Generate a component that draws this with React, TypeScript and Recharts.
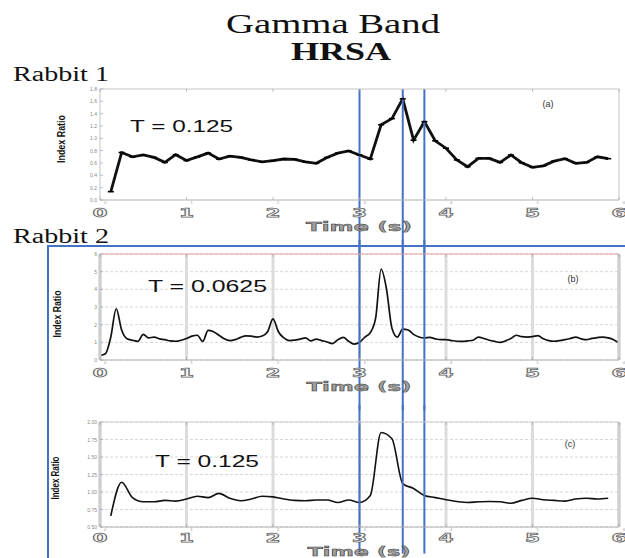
import React from 'react';
import { LineChart, Line, XAxis, YAxis, CartesianGrid, ReferenceLine } from 'recharts';

const SANS = '"Liberation Sans", Arial, sans-serif';
const SERIF = '"Liberation Serif", "Times New Roman", serif';
const WIDE = '"DejaVu Sans", Verdana, sans-serif';
const BLUE = '#4472C4';

const timeTicks = [0, 1, 2, 3, 4, 5, 6];
const markerTimes = [3, 3.5, 3.75];

// Rabbit 1, T = 0.125
const r1Times = [0.125, 0.25, 0.375, 0.5, 0.625, 0.75, 0.875, 1, 1.125, 1.25, 1.375, 1.5, 1.625, 1.75, 1.875, 2,
  2.125, 2.25, 2.375, 2.5, 2.625, 2.75, 2.875, 3, 3.125, 3.25, 3.375, 3.5, 3.625, 3.75, 3.875, 4,
  4.125, 4.25, 4.375, 4.5, 4.625, 4.75, 4.875, 5, 5.125, 5.25, 5.375, 5.5, 5.625, 5.75, 5.875];
const r1Values = [0.135, 0.77, 0.70, 0.73, 0.69, 0.61, 0.735, 0.64, 0.70, 0.76, 0.665, 0.71, 0.69, 0.65, 0.62, 0.64,
  0.665, 0.66, 0.62, 0.595, 0.69, 0.76, 0.795, 0.73, 0.665, 1.22, 1.32, 1.64, 0.97, 1.27, 0.96, 0.84,
  0.65, 0.54, 0.675, 0.675, 0.61, 0.73, 0.605, 0.53, 0.555, 0.63, 0.67, 0.595, 0.61, 0.70, 0.67];
const r1Ticks = [0, 0.2, 0.4, 0.6, 0.8, 1.0, 1.2, 1.4, 1.6, 1.8];

// Rabbit 2, T = 0.0625
const r2Times = [0, 0.0625, 0.125, 0.1875, 0.25, 0.3125, 0.375, 0.4375, 0.5, 0.5625, 0.625, 0.6875, 0.75, 0.8125, 0.875, 0.9375,
  1, 1.0625, 1.125, 1.1875, 1.25, 1.3125, 1.375, 1.4375, 1.5, 1.5625, 1.625, 1.6875, 1.75, 1.8125, 1.875, 1.9375,
  2, 2.0625, 2.125, 2.1875, 2.25, 2.3125, 2.375, 2.4375, 2.5, 2.5625, 2.625, 2.6875, 2.75, 2.8125, 2.875, 2.9375,
  3, 3.0625, 3.125, 3.1875, 3.25, 3.3125, 3.375, 3.4375, 3.5, 3.5625, 3.625, 3.6875, 3.75, 3.8125, 3.875, 3.9375,
  4, 4.0625, 4.125, 4.1875, 4.25, 4.3125, 4.375, 4.4375, 4.5, 4.5625, 4.625, 4.6875, 4.75, 4.8125, 4.875, 4.9375,
  5, 5.0625, 5.125, 5.1875, 5.25, 5.3125, 5.375, 5.4375, 5.5, 5.5625, 5.625, 5.6875, 5.75, 5.8125, 5.875, 5.9375, 6];
const r2Values = [0.25, 0.35, 1.3, 2.9, 1.7, 1.2, 1.12, 1.05, 1.45, 1.25, 1.3, 1.2, 1.15, 1.08, 1.06, 1.12,
  1.22, 1.35, 1.4, 1.05, 1.68, 1.6, 1.4, 1.2, 1.1, 1.15, 1.28, 1.36, 1.35, 1.3, 1.36, 1.6,
  2.33, 1.6, 1.25, 1.1, 1.12, 1.18, 1.25, 1.08, 1.18, 1.1, 1.02, 0.93, 1.15, 1.28, 1.06, 0.9,
  1.0, 1.3, 1.55, 2.4, 5.15, 4.0, 1.8, 1.3, 1.75, 1.7, 1.45, 1.3, 1.25, 1.28, 1.2, 1.15,
  1.15, 1.1, 1.06, 1.05, 1.08, 1.12, 1.3, 1.22, 1.12, 1.05, 1.0, 1.08, 1.22, 1.4, 1.32, 1.3,
  1.32, 1.38, 1.2, 1.1, 1.06, 1.1, 1.15, 1.22, 1.3, 1.2, 1.15, 1.22, 1.27, 1.3, 1.25, 1.15, 0.97];
const r2Ticks = [0, 1, 2, 3, 4, 5, 6];

// Rabbit 2, T = 0.125
const r3Times = [0.125, 0.25, 0.375, 0.5, 0.625, 0.75, 0.875, 1, 1.125, 1.25, 1.375, 1.5, 1.625, 1.75, 1.875, 2,
  2.125, 2.25, 2.375, 2.5, 2.625, 2.75, 2.875, 3, 3.125, 3.25, 3.375, 3.5, 3.625, 3.75, 3.875, 4,
  4.125, 4.25, 4.375, 4.5, 4.625, 4.75, 4.875, 5, 5.125, 5.25, 5.375, 5.5, 5.625, 5.75, 5.875];
const r3Values = [0.66, 1.14, 0.92, 0.86, 0.86, 0.88, 0.87, 0.9, 0.94, 0.92, 0.98, 0.91, 0.875, 0.9, 0.94, 0.93,
  0.9, 0.88, 0.875, 0.885, 0.885, 0.85, 0.885, 0.85, 0.95, 1.85, 1.76, 1.12, 1.05, 0.95, 0.92, 0.89,
  0.865, 0.85, 0.86, 0.865, 0.86, 0.84, 0.88, 0.91, 0.89, 0.88, 0.87, 0.9, 0.91, 0.9, 0.91];
const r3Ticks = [0.5, 0.75, 1, 1.25, 1.5, 1.75, 2];

type PanelCfg = {
  top: number; height: number; mt: number; mb: number;
  times: number[]; values: number[];
  domain: [number, number]; ticks: number[]; fmt: (v: number) => string;
  lineType: 'linear' | 'monotone'; strokeWidth: number; capDots: boolean;
  grid: boolean; topBorder: string; bottomBorder: string; sideBorder: string; sideWidth: number;
  segTop: number; segBottom: number; bigOffset: number;
};

function Panel(cfg: PanelCfg) {
  const data = cfg.times.map((t, i) => ({ t, v: cfg.values[i] }));
  const leftTick = (p: any) => (
    <g>
      <line x1={p.x} x2={p.x + 3} y1={p.y} y2={p.y} stroke="#999" strokeWidth={0.6} />
      <text x={p.x - 3} y={p.y} fontSize={5} fill="#888" textAnchor="end" dominantBaseline="central" fontFamily={SANS}>
        {cfg.fmt(p.payload.value)}
      </text>
    </g>
  );
  const rightTick = (p: any) => (
    <line x1={p.x} x2={p.x - 3} y1={p.y} y2={p.y} stroke="#999" strokeWidth={0.6} />
  );
  const topTick = (p: any) => (
    <line x1={p.x} x2={p.x} y1={p.y} y2={p.y + 3} stroke="#999" strokeWidth={0.6} />
  );
  const bottomTick = (p: any) => (
    <g>
      <line x1={p.x} x2={p.x} y1={p.y} y2={p.y - 3} stroke="#999" strokeWidth={0.6} />
      <text x={p.x + 4} y={p.y + 2.5} fontSize={4} fill="#999" textAnchor="start" dominantBaseline="central" fontFamily={SANS}>
        {p.payload.value}
      </text>
      <text x={p.x} y={p.y + cfg.bigOffset} fontSize={12.5} fill="#f7f7f7" stroke="#666" strokeWidth={0.75}
        fontWeight="bold" textAnchor="middle" dominantBaseline="central" fontFamily={WIDE}
        textLength={15} lengthAdjust="spacingAndGlyphs">
        {p.payload.value}
      </text>
    </g>
  );
  const capDot = (p: any) => {
    if (p.cx == null || p.cy == null) return <g key={`c${p.index}`} />;
    return <line key={`c${p.index}`} x1={p.cx - 3} x2={p.cx + 3} y1={p.cy} y2={p.cy} stroke="#000" strokeWidth={1.6} />;
  };
  return (
    <div style={{ position: 'absolute', left: 0, top: cfg.top }}>
      <LineChart width={625} height={cfg.height} data={data}
        margin={{ top: cfg.mt - 1, right: 5, bottom: cfg.mb - 1, left: 99 }}>
        {cfg.grid && <CartesianGrid vertical={false} stroke="#cdcdcd" strokeDasharray="3 2" strokeWidth={0.8} />}
        {cfg.grid && timeTicks.map((g) => (
          <ReferenceLine key={`g${g}`} x={g} stroke="#dcdcdc" strokeWidth={3} ifOverflow="visible" />
        ))}
        <XAxis dataKey="t" type="number" domain={[0, 6]} ticks={timeTicks} interval={0} height={1}
          tickSize={0} tickMargin={0} tickLine={false} axisLine={{ stroke: cfg.bottomBorder, strokeWidth: 1 }}
          tick={bottomTick} allowDataOverflow />
        <XAxis xAxisId="top" orientation="top" dataKey="t" type="number" domain={[0, 6]} ticks={timeTicks}
          interval={0} height={1} tickSize={0} tickMargin={0} tickLine={false}
          axisLine={{ stroke: cfg.topBorder, strokeWidth: 1 }} tick={topTick} />
        <YAxis type="number" domain={cfg.domain} ticks={cfg.ticks} interval={0} width={1}
          tickSize={0} tickMargin={0} tickLine={false}
          axisLine={{ stroke: cfg.sideBorder, strokeWidth: cfg.sideWidth }} tick={leftTick} allowDataOverflow />
        <YAxis yAxisId="r" orientation="right" type="number" domain={cfg.domain} ticks={cfg.ticks} interval={0}
          width={1} tickSize={0} tickMargin={0} tickLine={false}
          axisLine={{ stroke: cfg.sideBorder, strokeWidth: cfg.sideWidth }} tick={rightTick} />
        <Line dataKey="v" type={cfg.lineType} stroke="#111" strokeWidth={cfg.strokeWidth}
          dot={cfg.capDots ? capDot : false} activeDot={false} isAnimationActive={false} />
        {markerTimes.map((m) => (
          <ReferenceLine key={m} segment={[{ x: m, y: cfg.segTop }, { x: m, y: cfg.segBottom }]}
            stroke={BLUE} strokeWidth={2} ifOverflow="visible" />
        ))}
      </LineChart>
    </div>
  );
}

const fmt1 = (v: number) => v.toFixed(1);
const fmt0 = (v: number) => String(v);
const fmt2 = (v: number) => v.toFixed(2);

export default function App() {
  return (
    <div style={{ position: 'absolute', left: 0, top: 0, width: 625, height: 558, background: '#fff', overflow: 'hidden' }}>
      <Panel top={70} height={185} mt={19} mb={55} times={r1Times} values={r1Values}
        domain={[0, 1.8]} ticks={r1Ticks} fmt={fmt1} lineType="linear" strokeWidth={2.8} capDots
        grid={false} topBorder="#c4c4c4" bottomBorder="#b0b0b0" sideBorder="#c4c4c4" sideWidth={1}
        segTop={1.8} segBottom={-1} bigOffset={12.5} />
      <Panel top={240} height={170} mt={14} mb={50} times={r2Times} values={r2Values}
        domain={[0, 6]} ticks={r2Ticks} fmt={fmt0} lineType="monotone" strokeWidth={1.7} capDots={false}
        grid topBorder="#e3a0a0" bottomBorder="#b0b0b0" sideBorder="#cfcfcf" sideWidth={3}
        segTop={7} segBottom={-3} bigOffset={12} />
      <Panel top={405} height={153} mt={17} mb={31} times={r3Times} values={r3Values}
        domain={[0.5, 2]} ticks={r3Ticks} fmt={fmt2} lineType="monotone" strokeWidth={1.6} capDots={false}
        grid topBorder="#cfcfcf" bottomBorder="#b0b0b0" sideBorder="#cfcfcf" sideWidth={3}
        segTop={2.5} segBottom={0.12} bigOffset={10} />
      <svg width={625} height={558} style={{ position: 'absolute', left: 0, top: 0, pointerEvents: 'none' }}>
        <text x={333} y={33} textAnchor="middle" fontFamily={SERIF} fontSize={27} fill="#111"
          textLength={214} lengthAdjust="spacingAndGlyphs">Gamma Band</text>
        <text x={341} y={60} textAnchor="middle" fontFamily={SERIF} fontSize={26} fontWeight="bold" fill="#111"
          textLength={100} lengthAdjust="spacingAndGlyphs">HRSA</text>
        <text x={13} y={81} fontFamily={SERIF} fontSize={20} fill="#111"
          textLength={96} lengthAdjust="spacingAndGlyphs">Rabbit 1</text>
        <text x={13} y={243} fontFamily={SERIF} fontSize={20} fill="#111"
          textLength={96} lengthAdjust="spacingAndGlyphs">Rabbit 2</text>

        <line x1={48} x2={48} y1={245} y2={558} stroke={BLUE} strokeWidth={2} />
        <line x1={47} x2={625} y1={246} y2={246} stroke={BLUE} strokeWidth={2} />

        <text x={130} y={132} fontFamily={SANS} fontSize={16} fill="#111"
          textLength={103} lengthAdjust="spacingAndGlyphs">T = 0.125</text>
        <text x={148} y={292} fontFamily={SANS} fontSize={16} fill="#111"
          textLength={119} lengthAdjust="spacingAndGlyphs">T = 0.0625</text>
        <text x={155} y={467} fontFamily={SANS} fontSize={16} fill="#111"
          textLength={104} lengthAdjust="spacingAndGlyphs">T = 0.125</text>

        <text x={548} y={104} textAnchor="middle" dominantBaseline="central" fontFamily={SANS} fontSize={9} fill="#333">(a)</text>
        <text x={573} y={279} textAnchor="middle" dominantBaseline="central" fontFamily={SANS} fontSize={9} fill="#333">(b)</text>
        <text x={570} y={444} textAnchor="middle" dominantBaseline="central" fontFamily={SANS} fontSize={9} fill="#333">(c)</text>

        <text transform="translate(61,139) rotate(-90)" textAnchor="middle" dominantBaseline="central"
          fontFamily={SANS} fontSize={10} fontWeight="bold" fill="#111" textLength={48} lengthAdjust="spacingAndGlyphs">Index Ratio</text>
        <text transform="translate(57,314) rotate(-90)" textAnchor="middle" dominantBaseline="central"
          fontFamily={SANS} fontSize={10} fontWeight="bold" fill="#111" textLength={47} lengthAdjust="spacingAndGlyphs">Index Ratio</text>
        <text transform="translate(55,478) rotate(-90)" textAnchor="middle" dominantBaseline="central"
          fontFamily={SANS} fontSize={10} fontWeight="bold" fill="#111" textLength={43} lengthAdjust="spacingAndGlyphs">Index Ratio</text>

        <text x={359} y={227} textAnchor="middle" dominantBaseline="central" fontFamily={WIDE} fontSize={12}
          fontWeight="bold" fill="#a0a0a0" stroke="#333" strokeWidth={0.4} textLength={106} lengthAdjust="spacingAndGlyphs">Time (s)</text>
        <text x={359} y={386.5} textAnchor="middle" dominantBaseline="central" fontFamily={WIDE} fontSize={12}
          fontWeight="bold" fill="#a0a0a0" stroke="#333" strokeWidth={0.4} textLength={105} lengthAdjust="spacingAndGlyphs">Time (s)</text>
        <text x={359} y={552} textAnchor="middle" dominantBaseline="central" fontFamily={WIDE} fontSize={12}
          fontWeight="bold" fill="#a0a0a0" stroke="#333" strokeWidth={0.4} textLength={103} lengthAdjust="spacingAndGlyphs">Time (s)</text>
      </svg>
    </div>
  );
}
